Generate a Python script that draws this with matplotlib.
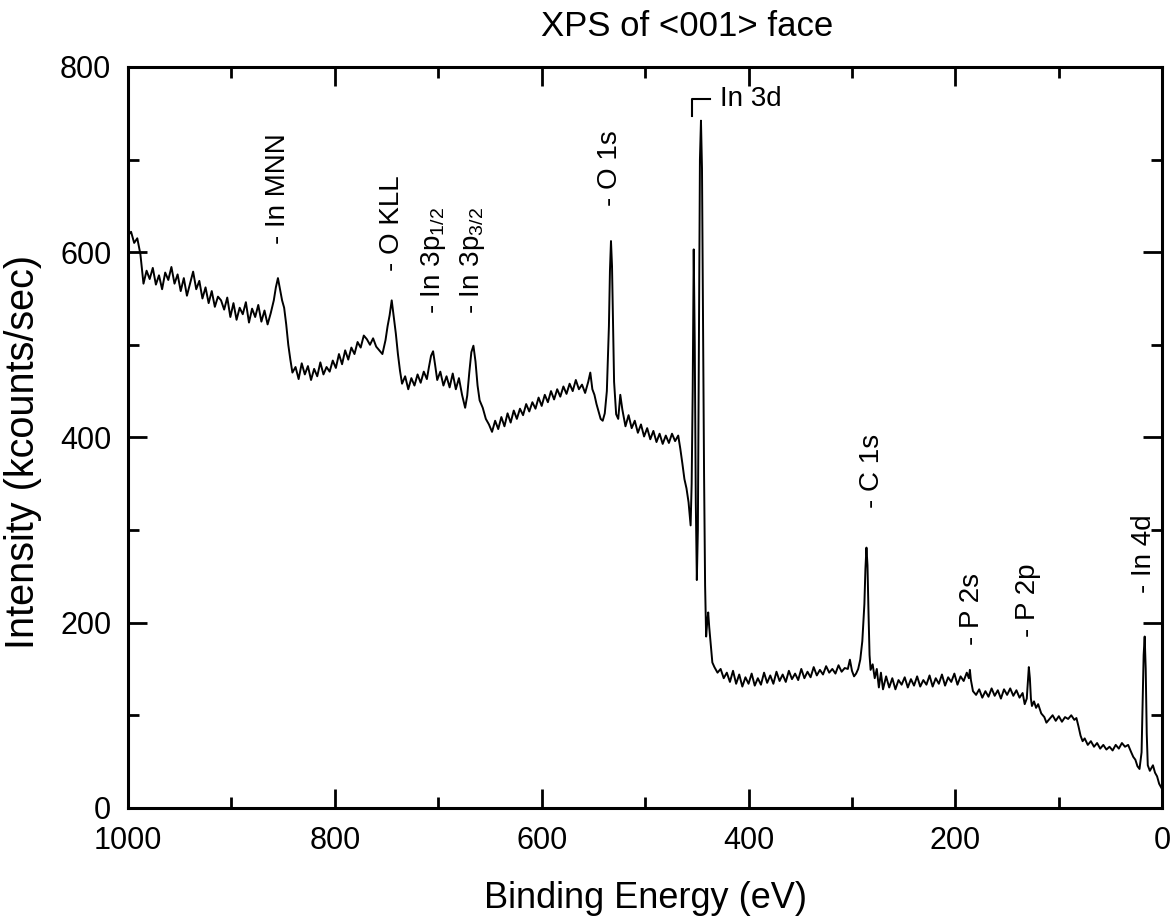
import matplotlib
matplotlib.use("Agg")
import matplotlib.pyplot as plt
import numpy as np

plt.rcParams['font.family'] = ['Liberation Sans', 'DejaVu Sans']
plt.rcParams['mathtext.fontset'] = 'custom'
plt.rcParams['mathtext.rm'] = 'Liberation Sans'
plt.rcParams['mathtext.it'] = 'Liberation Sans'

# spectrum (binding energy eV, kcounts/sec)
spectrum = [
    (1000, 618), (997, 622), (994, 610), (991, 615), (988, 598), (985, 566),
    (982, 580), (979, 571), (976, 583), (973, 565), (970, 575), (967, 560),
    (964, 578), (961, 570), (958, 584), (955, 566), (952, 576), (949, 558),
    (946, 572), (943, 553), (940, 566), (937, 579), (934, 560), (931, 569),
    (928, 550), (925, 562), (922, 545), (919, 558), (916, 541), (913, 552),
    (910, 548), (907, 538), (904, 551), (901, 530), (898, 545), (895, 527),
    (892, 540), (889, 533), (886, 546), (883, 524), (880, 539), (877, 530),
    (874, 543), (871, 525), (868, 537), (865, 522), (862, 534), (859, 548),
    (857, 562), (855, 572), (853, 560), (851, 548), (849, 540), (847, 522),
    (845, 500), (843, 484), (841, 470), (838, 476), (835, 463), (832, 480),
    (829, 468), (826, 477), (823, 462), (820, 474), (817, 466), (814, 481),
    (811, 468), (808, 476), (805, 471), (802, 483), (799, 475), (796, 490),
    (793, 479), (790, 494), (787, 484), (784, 497), (781, 490), (778, 503),
    (775, 497), (772, 510), (769, 506), (766, 500), (763, 507), (760, 498),
    (757, 494), (754, 490), (751, 505), (749, 520), (747, 532), (745, 548),
    (743, 530), (741, 512), (739, 490), (737, 472), (735, 458), (732, 466),
    (729, 452), (726, 464), (723, 456), (720, 468), (717, 459), (714, 471),
    (711, 463), (709, 476), (707, 488), (705, 493), (703, 478), (701, 462),
    (698, 471), (695, 456), (692, 466), (689, 454), (686, 469), (683, 452),
    (680, 464), (677, 446), (674, 432), (672, 445), (670, 470), (668, 492),
    (666, 499), (664, 482), (662, 456), (660, 440), (657, 432), (654, 420),
    (651, 414), (648, 406), (645, 418), (642, 409), (639, 422), (636, 412),
    (633, 426), (630, 416), (627, 429), (624, 420), (621, 431), (618, 424),
    (615, 436), (612, 428), (609, 438), (606, 431), (603, 443), (600, 434),
    (597, 446), (594, 438), (591, 450), (588, 441), (585, 452), (582, 444),
    (579, 455), (576, 447), (573, 458), (570, 450), (567, 462), (564, 452),
    (561, 457), (558, 448), (555, 460), (553, 470), (551, 452), (549, 446),
    (547, 436), (545, 428), (543, 420), (541, 418), (539, 426), (537, 450),
    (535, 520), (534, 580), (533, 612), (532, 585), (531, 520), (530, 460),
    (528, 425), (526, 420), (524, 446), (522, 430), (519, 412), (516, 424),
    (513, 410), (510, 418), (507, 405), (504, 414), (501, 401), (498, 410),
    (495, 398), (492, 407), (489, 395), (486, 404), (483, 393), (480, 402),
    (477, 394), (474, 404), (471, 396), (468, 402), (466, 388), (464, 372),
    (462, 355), (460, 345), (458, 330), (456, 305), (455, 350), (454, 450),
    (453, 603), (452, 500), (451, 330), (450, 246), (449, 300), (448, 500),
    (447, 700), (446, 742), (445, 690), (444, 520), (443, 360), (442, 240),
    (441, 185), (440, 200), (439, 211), (438, 195), (437, 182), (436, 170),
    (435, 157), (433, 152), (430, 146), (427, 150), (424, 140), (421, 146),
    (418, 136), (415, 148), (412, 134), (409, 144), (406, 131), (403, 141),
    (400, 134), (397, 145), (394, 132), (391, 140), (388, 133), (385, 146),
    (382, 135), (379, 143), (376, 134), (373, 147), (370, 137), (367, 144),
    (364, 136), (361, 148), (358, 139), (355, 145), (352, 138), (349, 150),
    (346, 140), (343, 147), (340, 141), (337, 152), (334, 143), (331, 149),
    (328, 144), (325, 153), (322, 146), (319, 150), (316, 145), (313, 154),
    (310, 147), (307, 151), (304, 150), (302, 160), (300, 148), (298, 142),
    (296, 145), (294, 150), (292, 160), (290, 180), (288, 220), (287, 258),
    (286, 281), (285, 262), (284, 210), (283, 165), (282, 149), (280, 155),
    (278, 140), (276, 150), (274, 130), (272, 146), (270, 128), (267, 142),
    (264, 130), (261, 140), (258, 128), (255, 138), (252, 133), (249, 141),
    (246, 130), (243, 139), (240, 132), (237, 142), (234, 131), (231, 138),
    (228, 133), (225, 143), (222, 131), (219, 140), (216, 134), (213, 144),
    (210, 132), (207, 141), (204, 136), (201, 145), (198, 133), (195, 142),
    (192, 137), (189, 146), (187, 140), (186, 149), (185, 138), (183, 126),
    (180, 122), (177, 128), (174, 119), (171, 126), (168, 120), (165, 129),
    (162, 121), (159, 127), (156, 118), (153, 128), (150, 122), (147, 129),
    (144, 121), (141, 127), (138, 119), (135, 124), (133, 112), (131, 118),
    (130, 135), (129, 152), (128, 140), (127, 118), (126, 110), (124, 115),
    (122, 108), (120, 112), (117, 102), (114, 98), (112, 92), (109, 96),
    (106, 100), (103, 94), (100, 99), (97, 93), (94, 98), (91, 96),
    (88, 100), (85, 95), (83, 97), (81, 88), (79, 78), (77, 72),
    (75, 75), (72, 68), (69, 72), (66, 66), (63, 70), (60, 64),
    (57, 68), (54, 63), (51, 66), (48, 62), (45, 68), (42, 64),
    (39, 70), (36, 66), (33, 68), (30, 60), (28, 55), (26, 52),
    (24, 45), (22, 42), (20, 60), (19, 110), (18, 165), (17, 185),
    (16, 150), (15, 80), (14, 46), (12, 40), (10, 44), (9, 46),
    (7, 38), (5, 34), (3, 26), (1, 22), (0, 20),
]
be = [p[0] for p in spectrum]
kcps = [p[1] for p in spectrum]

# peak labels: text, energy, y of label base
labels = ['- In MNN', '- O KLL', '- In 3p$_{1/2}$', '- In 3p$_{3/2}$',
          '- O 1s', '- C 1s', '- P 2s', '- P 2p', '- In 4d']
label_e = [855, 745, 705, 667, 534, 281, 184, 130, 18]
label_y = [609, 580, 533, 533, 650, 324, 176, 185, 232]

fig = plt.figure(figsize=(11.74, 9.17), dpi=100)
ax = fig.add_axes([0.109, 0.119, 0.881, 0.808])

ax.plot(be, kcps, color='black', lw=1.4)

ax.set_xlim(1000, 0)
ax.set_ylim(0, 800)
ax.set_xticks(np.arange(1000, -1, -200))
ax.set_xticks(np.arange(900, 0, -200), minor=True)
ax.set_yticks(np.arange(0, 801, 200))
ax.set_yticks(np.arange(100, 800, 200), minor=True)
ax.tick_params(which='both', direction='in', top=True, right=True, width=2,
               labelsize=22)
ax.tick_params(axis='x', pad=13)
ax.tick_params(axis='y', pad=12)
ax.tick_params(which='major', length=14)
ax.tick_params(which='minor', length=8)
for s in ax.spines.values():
    s.set_linewidth(2.2)

for t, e, y in zip(labels, label_e, label_y):
    ax.text(e, y, t, rotation=90, ha='center', va='bottom', fontsize=20)

# In 3d bracket
ax.plot([455, 455, 437], [747, 765, 765], color='black', lw=1.5)
ax.text(428, 765, 'In 3d', ha='left', va='center', fontsize=20)

fig.text(687 / 1174, 1 - 27 / 917, 'XPS of <001> face', fontsize=25,
         ha='center', va='center')
ax.set_xlabel('Binding Energy (eV)', fontsize=26, labelpad=18)
ax.set_ylabel('Intensity (kcounts/sec)', fontsize=28.5, labelpad=12)
ax.yaxis.set_label_coords(-0.083, 0.48)

fig.savefig('out.png', dpi=100)
